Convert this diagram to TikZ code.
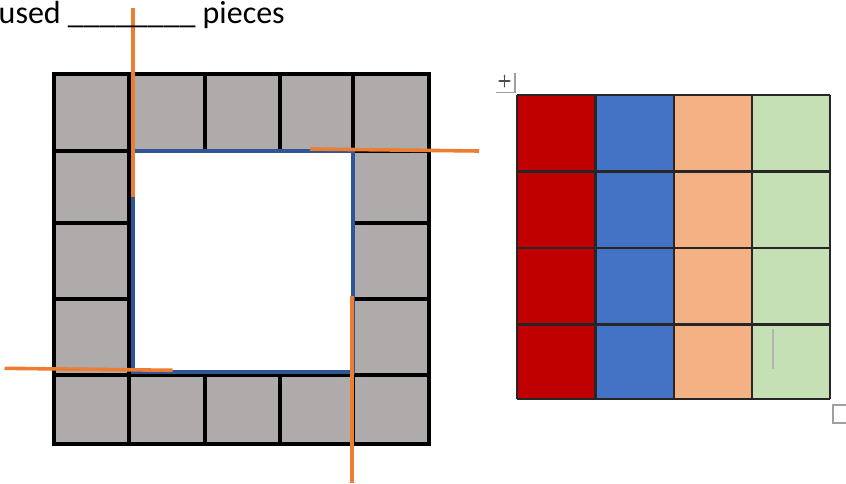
\documentclass[tikz,border=0pt]{standalone}
\usepackage{fontspec}
\setmainfont{Carlito}
\usetikzlibrary{arrows.meta}
\definecolor{tilegray}{RGB}{174,171,170}
\definecolor{holeblue}{RGB}{47,85,151}
\definecolor{cutorange}{RGB}{237,125,49}
\definecolor{tred}{RGB}{192,0,0}
\definecolor{tblue}{RGB}{68,114,196}
\definecolor{tpeach}{RGB}{244,177,131}
\definecolor{tgreen}{RGB}{197,224,180}
\definecolor{handlegray}{RGB}{160,160,160}
\tikzset{
  tile/.style={fill=tilegray, draw=black, line width=4pt},
  hole/.style={fill=white, draw=holeblue, line width=4pt},
  cut/.style={draw=cutorange, line width=3.6pt},
  tabline/.style={draw=black!85, line width=2.4pt},
  handle/.style={draw=handlegray, line width=2pt}
}

\begin{document}
\begin{tikzpicture}[x=1pt, y=-1pt, line join=miter]
  \useasboundingbox (0,0) rectangle (846,483);

  % frame of tiles
  \def\xs{{53.5,129,205,280,353,429}}
  \def\ys{{74,151,223,299,375,444}}
  \foreach \i in {0,...,4}
    \foreach \j in {0,...,4} {
      \pgfmathsetmacro{\xa}{\xs[\i]}
      \pgfmathsetmacro{\xb}{\xs[\i+1]}
      \pgfmathsetmacro{\ya}{\ys[\j]}
      \pgfmathsetmacro{\yb}{\ys[\j+1]}
      \draw[tile] (\xa,\ya) rectangle (\xb,\yb);
    }
  \draw[hole] (133,151) rectangle (352.5,371.5);

  % colour table
  \def\txs{{517,595.5,674,752,830}}
  \def\tys{{95,171.5,248,324.5,399}}
  \foreach \c [count=\k from 0] in {tred,tblue,tpeach,tgreen}
    \foreach \j in {0,...,3} {
      \pgfmathsetmacro{\xa}{\txs[\k]}
      \pgfmathsetmacro{\xb}{\txs[\k+1]}
      \pgfmathsetmacro{\ya}{\tys[\j]}
      \pgfmathsetmacro{\yb}{\tys[\j+1]}
      \fill[\c] (\xa,\ya) rectangle (\xb,\yb);
    }
  \foreach \k in {0,...,4} {
    \pgfmathsetmacro{\xa}{\txs[\k]}
    \pgfmathsetmacro{\ya}{\tys[\k]}
    \draw[tabline] (\xa,95) -- (\xa,399);
    \draw[tabline] (517,\ya) -- (830,\ya);
  }
  \draw[draw=handlegray!80, line width=2pt] (773,329) -- (773,369);

  % table handles
  \draw[handle, line width=1.5pt] (496,92.5) -- (515,92.5) -- (515,73);
  \draw[black!70, line width=1.2pt, {Latex[length=2.5pt]}-{Latex[length=2.5pt]}]
    (497.5,81) -- (511.5,81);
  \draw[black!70, line width=1.2pt, {Latex[length=2.5pt]}-{Latex[length=2.5pt]}]
    (504.5,74) -- (504.5,88);
  \draw[handle] (833,404.5) rectangle (852,422.5);

  % cut lines
  \draw[cut] (133,8) -- (133,197);
  \draw[cut] (310,149) -- (479,151);
  \draw[cut] (4.5,368.3) -- (172.7,370.3);
  \draw[cut] (351.7,296) -- (351.7,483);

  \node[anchor=base west, inner sep=0pt, font=\fontsize{32}{34}\selectfont]
    (caption) at (-1.5,23) {used \_\_\_\_\_\_\_\_ pieces};
\end{tikzpicture}
\end{document}
